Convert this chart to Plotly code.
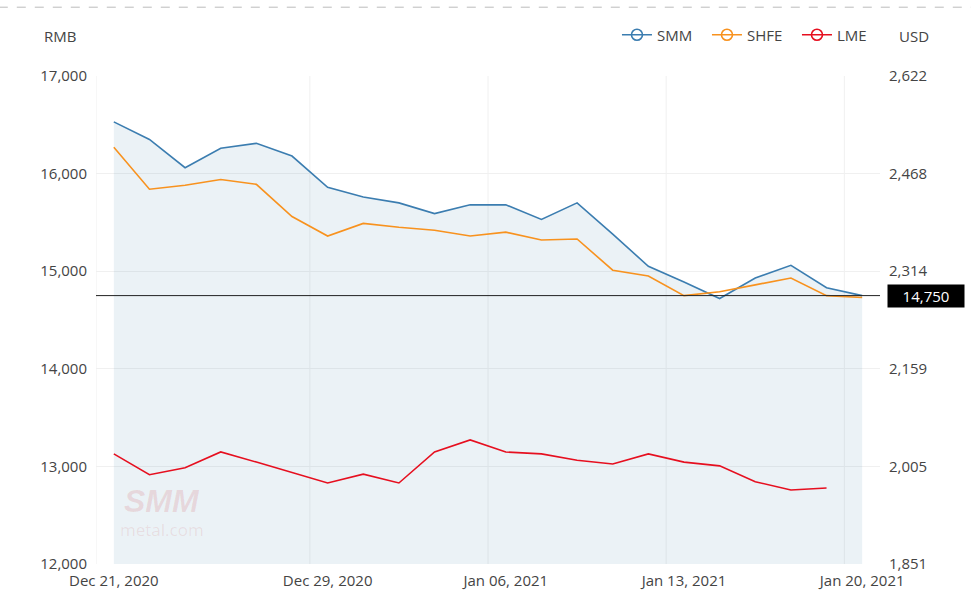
import plotly.graph_objects as go
import pandas as pd

dates = ["2020-12-21", "2020-12-22", "2020-12-23", "2020-12-24", "2020-12-25",
         "2020-12-28", "2020-12-29", "2020-12-30", "2020-12-31", "2021-01-04",
         "2021-01-05", "2021-01-06", "2021-01-07", "2021-01-08", "2021-01-11",
         "2021-01-12", "2021-01-13", "2021-01-14", "2021-01-15", "2021-01-18",
         "2021-01-19", "2021-01-20"]
smm = [16530, 16350, 16060, 16260, 16310, 16180, 15860, 15760, 15700, 15590,
       15680, 15680, 15530, 15700, 15380, 15050, 14890, 14720, 14930, 15060,
       14830, 14750]
shfe = [16270, 15840, 15880, 15940, 15890, 15560, 15360, 15490, 15450, 15420,
        15360, 15400, 15320, 15330, 15010, 14950, 14750, 14790, 14860, 14930,
        14750, 14730]
lme = [2025, 1992, 2003, 2028, 2012, 1996, 1979, 1993, 1979, 2028,
       2047, 2028, 2025, 2015, 2009, 2025, 2012, 2006, 1981, 1968,
       1971, None]
tick_dates = ["2020-12-21", "2020-12-29", "2021-01-06", "2021-01-13", "2021-01-20"]
rmb_ticks = [12000, 13000, 14000, 15000, 16000, 17000]
usd_ticks = [1851, 2005.2, 2159.4, 2313.6, 2467.8, 2622]
usd_ticktext = ["1,851", "2,005", "2,159", "2,314", "2,468", "2,622"]
last_price = 14750

C_SMM = "#3b7db0"
C_SHFE = "#f8921e"
C_LME = "#e60f1f"
FONT = "Open Sans"
FS = 15

fig = go.Figure()
fig.add_trace(go.Scatter(x=dates, y=smm, mode="lines", line=dict(color=C_SMM, width=1.6),
                         fill="tozeroy", fillcolor="rgba(59,130,170,0.10)", showlegend=False,
                         name="SMM"))
fig.add_trace(go.Scatter(x=dates, y=shfe, mode="lines", line=dict(color=C_SHFE, width=1.6),
                         showlegend=False, name="SHFE"))
fig.add_trace(go.Scatter(x=dates, y=lme, mode="lines", line=dict(color=C_LME, width=1.6),
                         yaxis="y2", showlegend=False, name="LME"))
for nm, c in [("SMM", C_SMM), ("SHFE", C_SHFE), ("LME", C_LME)]:
    fig.add_trace(go.Scatter(x=[None], y=[None], mode="lines+markers", name=nm,
                             line=dict(color=c, width=1.6),
                             marker=dict(symbol="circle-open", size=11, color=c, line=dict(width=1.6))))

# vertical grid lines at category boundaries
for b in [-0.5, 5.5, 10.5, 15.5, 20.5]:
    fig.add_shape(type="line", xref="x", yref="paper", x0=b, x1=b, y0=0, y1=1,
                  line=dict(color="#f0f0f0", width=1), layer="below")
# last price line
fig.add_shape(type="line", xref="paper", yref="y", x0=0, x1=1, y0=last_price, y1=last_price,
              line=dict(color="#222222", width=1))
# top dashed line
fig.add_shape(type="line", xref="paper", yref="paper", x0=-0.124, x1=1.116, y0=1.141, y1=1.141,
              line=dict(color="#bbbbbb", width=1, dash="dash"))

fig.add_annotation(xref="paper", yref="y", x=1.009, y=last_price, text=f"{last_price:,}",
                   xanchor="left", yanchor="middle", showarrow=False,
                   bgcolor="#000000", font=dict(color="white", size=FS, family=FONT),
                   borderpad=2, width=72, height=18)
fig.add_annotation(xref="paper", yref="paper", x=-0.046, y=1.082, text="RMB", showarrow=False,
                   xanchor="center", yanchor="middle", font=dict(size=FS, color="#444", family=FONT))
fig.add_annotation(xref="paper", yref="paper", x=1.044, y=1.082, text="USD", showarrow=False,
                   xanchor="center", yanchor="middle", font=dict(size=FS, color="#444", family=FONT))
# watermark
fig.add_annotation(xref="paper", yref="paper", x=0.084, y=0.13, text="<b><i>SMM</i></b>",
                   showarrow=False, xanchor="center", yanchor="middle",
                   font=dict(size=32, color="rgba(200,30,40,0.13)", family="Liberation Sans"))
fig.add_annotation(xref="paper", yref="paper", x=0.084, y=0.07, text="metal.com",
                   showarrow=False, xanchor="center", yanchor="middle",
                   font=dict(size=17, color="rgba(200,30,40,0.10)", family=FONT))

fig.update_layout(
    width=971, height=601,
    margin=dict(l=96, r=91, t=76, b=37),
    paper_bgcolor="white", plot_bgcolor="white",
    font=dict(family=FONT, size=FS, color="#444"),
    legend=dict(orientation="h", x=0.6645, y=1.084, xanchor="left", yanchor="middle",
                font=dict(size=FS, color="#444"), itemwidth=30, entrywidth=45,
                bgcolor="rgba(0,0,0,0)"),
    xaxis=dict(type="category", range=[-0.5, len(dates) - 0.5], showgrid=False, zeroline=False,
               showline=False, ticks="",
               tickvals=tick_dates,
               ticktext=[pd.Timestamp(d).strftime("%b %d, %Y") for d in tick_dates],
               ticklabelstandoff=6),
    yaxis=dict(range=[12000, 17000], tickvals=rmb_ticks, tickformat=",d", showgrid=True,
               gridcolor="#f0f0f0", zeroline=False, showline=False, ticks="",
               ticklabelstandoff=8),
    yaxis2=dict(range=[1851, 2622], overlaying="y", side="right", tickvals=usd_ticks,
                ticktext=usd_ticktext, showgrid=False, zeroline=False, showline=False,
                ticks="", ticklabelstandoff=8),
    hovermode=False,
)
fig.write_html("out.html")
